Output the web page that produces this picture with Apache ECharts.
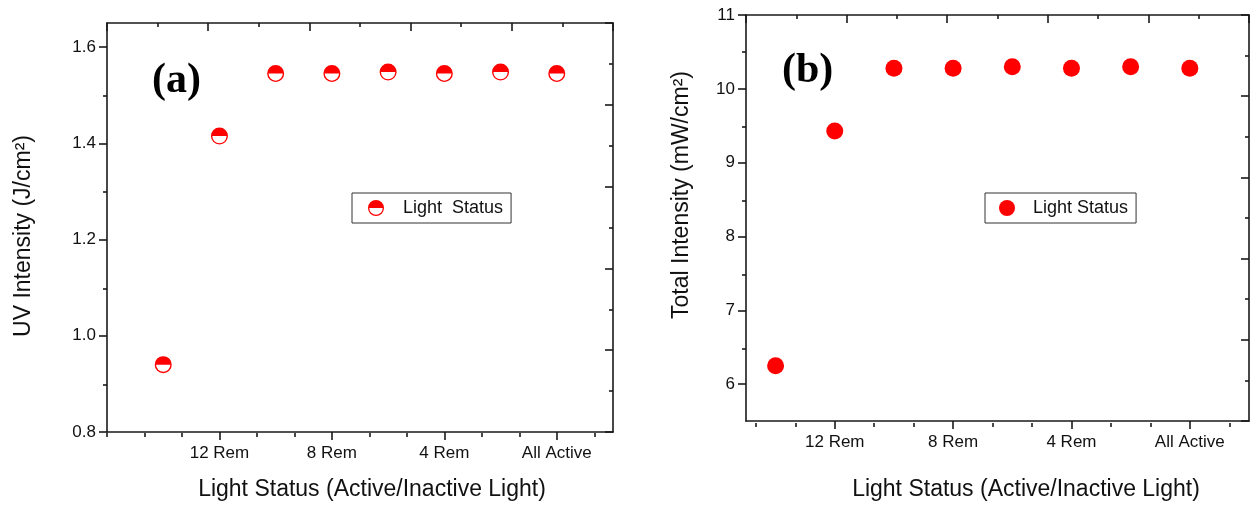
<!DOCTYPE html>
<html>
<head>
<meta charset="utf-8">
<script src="https://cdn.jsdelivr.net/npm/echarts@6/dist/echarts.min.js"></script>
<style>
html, body { margin: 0; padding: 0; background: #fff; }
#chart { width: 1256px; height: 506px; }
</style>
</head>
<body>
<div id="chart"></div>
<script>
// 数据
var positions = [1, 2, 3, 4, 5, 6, 7, 8];
var uvIntensity = [0.94, 1.415, 1.545, 1.545, 1.548, 1.545, 1.548, 1.545];
var totalIntensity = [6.25, 9.43, 10.28, 10.28, 10.3, 10.28, 10.3, 10.28];
var labelPositions = [2, 4, 6, 8];
var tickLabels = ['12 Rem', '8 Rem', '4 Rem', 'All Active'];
var uvTicks = [0.8, 1.0, 1.2, 1.4, 1.6];
var uvMinorTicks = [0.9, 1.1, 1.3, 1.5];
var totalTicks = [6, 7, 8, 9, 10, 11];
var totalMinorTicks = [6.5, 7.5, 8.5, 9.5, 10.5];

window.addEventListener('load', function() {
    var chart = echarts.init(document.getElementById('chart'));
    var font = 'Liberation Sans';
    var ink = '#1a1a1a';
    var red = '#ff0000';
    var halfCircle = 'path://M-10,0A10,10,0,0,1,0,-10A10,10,0,0,1,10,0A10,10,0,0,1,0,10A10,10,0,0,1,-10,0Z' +
        'M-8.4,0A8.4,8.4,0,0,0,0,8.4A8.4,8.4,0,0,0,8.4,0Z';

    // x 方向的小刻度 (每 2/3 一格)
    function minorX(from) {
        var res = [];
        for (var k = 0; k <= 13; k++) {
            var v = k * 2 / 3;
            if (k % 3 !== 0 || k === 0) {
                if (v >= from) res.push(v);
            }
        }
        return res;
    }

    function pairs(ys) {
        return positions.map(function(x, i) { return [x, ys[i]]; });
    }

    var grids = [
        { left: 107, top: 23, width: 506, height: 410 },
        { left: 107, top: 23, width: 506, height: 410 },
        { left: 746, top: 15, width: 503, height: 408 },
        { left: 746, top: 15, width: 503, height: 408 }
    ];

    var lineStyle = { color: ink, width: 1.6 };

    function bottomAxis(grid, min, name, gap, shift) {
        return {
            type: 'value', gridIndex: grid, position: 'bottom', min: min, max: 9,
            axisLine: { onZero: false, lineStyle: lineStyle },
            axisTick: { customValues: labelPositions, length: 8, lineStyle: lineStyle },
            axisLabel: {
                customValues: labelPositions, margin: 13, color: '#111',
                fontFamily: font, fontSize: 17,
                formatter: function(v) { return tickLabels[labelPositions.indexOf(v)] || ''; }
            },
            splitLine: { show: false },
            name: name, nameLocation: 'middle', nameGap: gap,
            nameTextStyle: { color: '#111', fontFamily: font, fontSize: 23, padding: [0, 0, 0, shift] }
        };
    }
    function topAxis(grid) {
        return {
            type: 'value', gridIndex: grid, position: 'top', min: 0, max: 10, interval: 2,
            axisLine: { onZero: false, lineStyle: lineStyle },
            axisTick: { inside: true, length: 8, lineStyle: lineStyle },
            minorTick: { show: true, splitNumber: 2, length: 4, lineStyle: lineStyle },
            axisLabel: { show: false },
            splitLine: { show: false }
        };
    }
    function minorXAxis(grid, min) {
        return {
            type: 'value', gridIndex: grid, position: 'bottom', min: min, max: 9,
            axisLine: { show: false, onZero: false },
            axisTick: { customValues: minorX(min), length: 4, lineStyle: lineStyle },
            axisLabel: { show: false },
            splitLine: { show: false }
        };
    }
    function leftAxis(grid, min, max, ticks, digits, name, gap, pad) {
        return {
            type: 'value', gridIndex: grid, position: 'left', min: min, max: max,
            axisLine: { show: true, onZero: false, lineStyle: lineStyle },
            axisTick: { show: true, customValues: ticks, length: 8, lineStyle: lineStyle },
            axisLabel: {
                customValues: ticks, margin: 11, color: '#111', fontFamily: font, fontSize: 17,
                formatter: function(v) { return v.toFixed(digits); }
            },
            splitLine: { show: false },
            name: name, nameLocation: 'middle', nameGap: gap,
            nameTextStyle: { color: '#111', fontFamily: font, fontSize: 23, padding: pad }
        };
    }
    function rightAxis(grid) {
        return {
            type: 'value', gridIndex: grid, position: 'right', min: 0, max: 10, interval: 2,
            axisLine: { show: true, onZero: false, lineStyle: lineStyle },
            axisTick: { show: true, inside: true, length: 8, lineStyle: lineStyle },
            minorTick: { show: true, splitNumber: 2, length: 4, lineStyle: lineStyle },
            axisLabel: { show: false },
            splitLine: { show: false }
        };
    }
    function minorYAxis(grid, min, max, ticks) {
        return {
            type: 'value', gridIndex: grid, position: 'left', min: min, max: max,
            axisLine: { show: false, onZero: false },
            axisTick: { show: true, customValues: ticks, length: 4, lineStyle: lineStyle },
            axisLabel: { show: false },
            splitLine: { show: false }
        };
    }

    chart.setOption({
        animation: false,
        backgroundColor: '#fff',
        grid: grids,
        xAxis: [
            bottomAxis(0, 0, 'Light Status (Active/Inactive Light)', 46, 24),
            topAxis(0),
            minorXAxis(1, 0),
            bottomAxis(2, 0.5, 'Light Status (Active/Inactive Light)', 57, 57),
            topAxis(2),
            minorXAxis(3, 0.5)
        ],
        yAxis: [
            leftAxis(0, 0.8, 1.65, uvTicks, 1, 'UV Intensity (J/cm²)', 72, [0, 17, 0, 0]),
            rightAxis(0),
            minorYAxis(1, 0.8, 1.65, uvMinorTicks),
            leftAxis(2, 5.5, 11, totalTicks, 0, 'Total Intensity (mW/cm²)', 53, [0, 0, 0, 46]),
            rightAxis(2),
            minorYAxis(3, 5.5, 11, totalMinorTicks)
        ],
        legend: [{
            data: ['Light  Status'], left: 352, top: 193, orient: 'vertical',
            padding: [6, 8, 6, 16], itemWidth: 16, itemHeight: 16,
            borderColor: '#333', borderWidth: 1, borderRadius: 0, selectedMode: false,
            textStyle: { color: '#111', fontFamily: font, fontSize: 18, padding: [0, 0, 0, 14] }
        }, {
            data: ['Light Status'], left: 985, top: 193, orient: 'vertical',
            padding: [6, 8, 6, 14], itemWidth: 16, itemHeight: 16,
            borderColor: '#333', borderWidth: 1, borderRadius: 0, selectedMode: false,
            textStyle: { color: '#111', fontFamily: font, fontSize: 18, padding: [0, 0, 0, 13] }
        }],
        graphic: [{
            type: 'text', left: 152, top: 60,
            style: { text: '(a)', fill: '#000', font: 'bold 42px "Liberation Serif"' }
        }, {
            type: 'text', left: 782, top: 50,
            style: { text: '(b)', fill: '#000', font: 'bold 42px "Liberation Serif"' }
        }],
        series: [{
            name: 'Light  Status', type: 'scatter', xAxisIndex: 0, yAxisIndex: 0,
            symbol: halfCircle, symbolSize: 17,
            itemStyle: { color: red, opacity: 1 },
            data: pairs(uvIntensity)
        }, {
            name: 'Light Status', type: 'scatter', xAxisIndex: 3, yAxisIndex: 3,
            symbol: 'circle', symbolSize: 17,
            itemStyle: { color: red, opacity: 1 },
            data: pairs(totalIntensity)
        }]
    });
});
</script>
</body>
</html>
